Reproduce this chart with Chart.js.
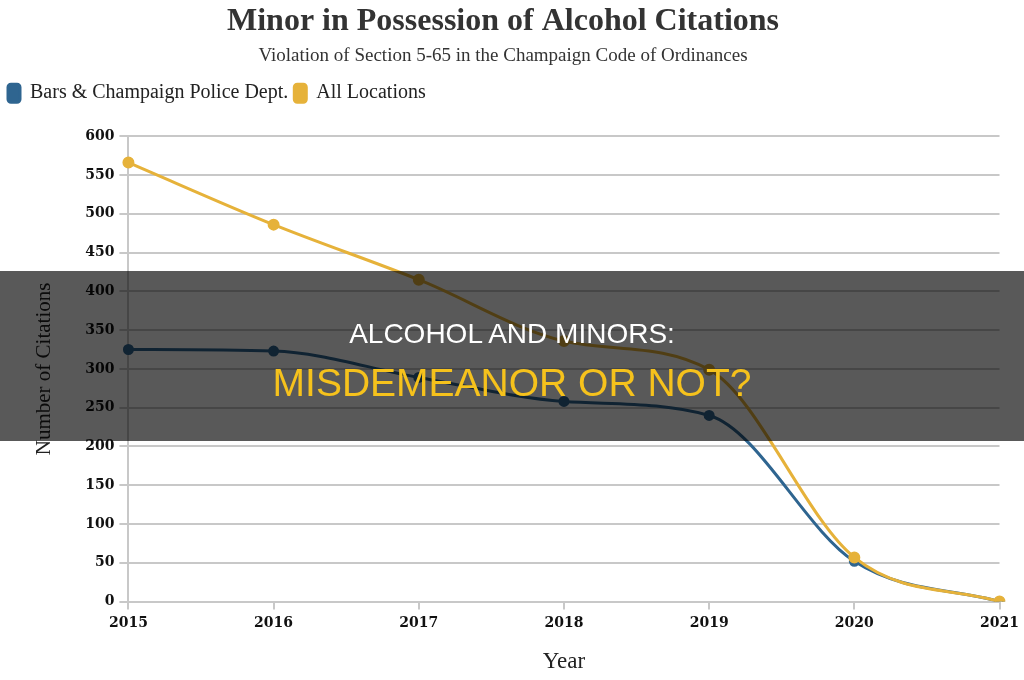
<!DOCTYPE html>
<html>
<head>
<meta charset="utf-8">
<script src="https://cdn.jsdelivr.net/npm/chart.js@4.4.0/dist/chart.umd.min.js"></script>
<style>
  html, body { margin: 0; padding: 0; background: #fff; }
  #wrap { position: relative; width: 1024px; height: 680px; }
  #banner {
    position: absolute; left: 0; top: 271px; width: 1024px; height: 170px;
    background: rgba(0, 0, 0, 0.65);
    font-family: "Liberation Sans", Arial, sans-serif; text-align: center;
  }
  #banner .l1 { position: absolute; left: 0; right: 0; top: 46px; color: #fff; font-size: 28px; line-height: 34px; }
  #banner .l2 { position: absolute; left: 0; right: 0; top: 89px; color: #f6c21c; font-size: 39px; line-height: 45px; }
</style>
</head>
<body>
<div id="wrap">
  <canvas id="chart" width="1024" height="680"></canvas>
  <div id="banner">
    <div class="l1">ALCOHOL AND MINORS:</div>
    <div class="l2">MISDEMEANOR OR NOT?</div>
  </div>
</div>
<script>
// données
const years = ['2015', '2016', '2017', '2018', '2019', '2020', '2021'];
const barsPolice = [325, 323, 289, 258, 240, 52, 0];
const allLocations = [566, 486, 415, 336, 299, 57, 0];
const yTicks = [0, 50, 100, 150, 200, 250, 300, 350, 400, 450, 500, 550, 600];

const serif = "'Liberation Serif', 'DejaVu Serif', serif";
const blue = '#2f6590';
const gold = '#e6b23a';

// espace en plus sous la légende
const legendGap = {
    id: 'legendGap',
    beforeInit(chart) {
        const fit = chart.legend.fit;
        chart.legend.fit = function() {
            fit.bind(chart.legend)();
            this.height += 23;
        };
    }
};

const ctx = document.getElementById('chart').getContext('2d');
new Chart(ctx, {
    type: 'line',
    data: {
        labels: years,
        datasets: [
            {
                label: 'Bars & Champaign Police Dept.',
                data: barsPolice,
                borderColor: blue,
                backgroundColor: blue,
                borderWidth: 3,
                pointRadius: 4,
                order: 1,
                cubicInterpolationMode: 'monotone'
            },
            {
                label: 'All Locations',
                data: allLocations,
                borderColor: gold,
                backgroundColor: gold,
                borderWidth: 3,
                pointRadius: 4.5,
                order: 0,
                cubicInterpolationMode: 'monotone'
            }
        ]
    },
    plugins: [legendGap],
    options: {
        responsive: false,
        animation: false,
        layout: { padding: { left: 2, right: 20, top: 3, bottom: 0 } },
        plugins: {
            title: {
                display: true,
                text: 'Minor in Possession of Alcohol Citations',
                color: '#333',
                font: { family: serif, size: 32, weight: 'bold' },
                padding: { top: 0, bottom: 3 }
            },
            subtitle: {
                display: true,
                text: 'Violation of Section 5-65 in the Champaign Code of Ordinances',
                color: '#333',
                font: { family: serif, size: 19 },
                padding: { top: 0, bottom: 10 }
            },
            legend: {
                position: 'top',
                align: 'start',
                labels: {
                    color: '#222',
                    font: { family: serif, size: 20 },
                    boxWidth: 12,
                    boxHeight: 18,
                    useBorderRadius: true,
                    borderRadius: 3,
                    padding: 6,
                    sort: (a, b) => a.datasetIndex - b.datasetIndex
                }
            },
            tooltip: { enabled: false }
        },
        scales: {
            x: {
                offset: false,
                grid: { drawOnChartArea: false, drawTicks: true, color: '#c8c8c8', lineWidth: 2, tickLength: 8 },
                border: { display: false },
                ticks: { color: '#111', font: { family: "'DejaVu Serif', serif", size: 14, weight: 'bold' }, maxRotation: 0, padding: 5 },
                title: { display: true, text: 'Year', color: '#222', font: { family: serif, size: 23 }, padding: { top: 12 } }
            },
            y: {
                min: 0,
                max: 600,
                afterBuildTicks: axis => { axis.ticks = yTicks.map(v => ({ value: v })); },
                grid: { color: '#c8c8c8', lineWidth: 2, tickLength: 9 },
                border: { color: '#c8c8c8', width: 2 },
                ticks: { color: '#111', font: { family: "'DejaVu Serif', serif", size: 14, weight: 'bold' }, padding: 5 },
                title: { display: true, text: 'Number of Citations', color: '#222', font: { family: serif, size: 21 }, padding: { top: 30, bottom: 23 } }
            }
        }
    }
});
</script>
</body>
</html>
